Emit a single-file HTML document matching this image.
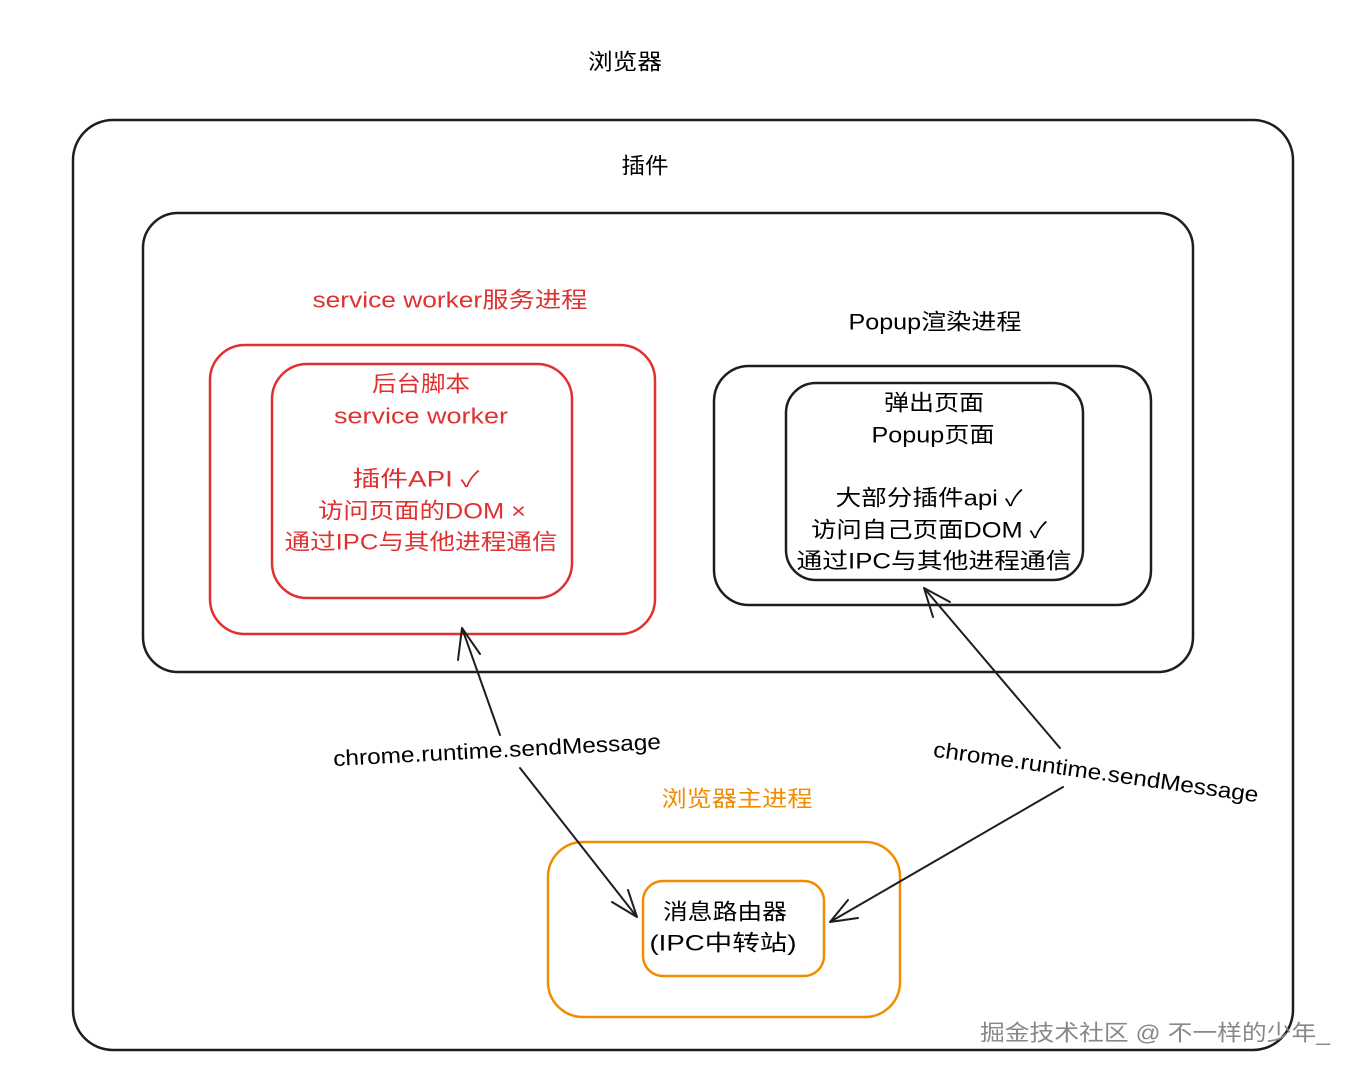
<!DOCTYPE html>
<html><head><meta charset="utf-8"><style>
html,body{margin:0;padding:0;background:#fff;}
svg{display:block;}
text{font-family:"Liberation Sans","Noto Sans CJK SC",sans-serif;font-size:22px;text-anchor:middle;dominant-baseline:central;}
.r{fill:#e03131}.o{fill:#f08c00}
</style></head><body>
<svg width="1358" height="1076" viewBox="0 0 1358 1076" xmlns="http://www.w3.org/2000/svg">
<g fill="none" stroke-width="2.5" stroke-linecap="round">
<rect x="73" y="120" width="1220" height="930" rx="40" stroke="#1e1e1e"/>
<rect x="143" y="213" width="1050" height="459" rx="35" stroke="#1e1e1e"/>
<rect x="210" y="345" width="445" height="289" rx="35" stroke="#e03131"/>
<rect x="272" y="364" width="300" height="234" rx="35" stroke="#e03131"/>
<rect x="714" y="366" width="437" height="239" rx="35" stroke="#1e1e1e"/>
<rect x="786" y="383" width="297" height="197" rx="30" stroke="#1e1e1e"/>
<rect x="548" y="842" width="352" height="175" rx="35" stroke="#f08c00"/>
<rect x="643" y="881" width="181" height="95" rx="20" stroke="#f08c00"/>
<g stroke="#1e1e1e" stroke-width="2">
<path d="M500 735 L462 628 M462 628 L458 660 M462 628 L480 654"/>
<path d="M520 768 L637 917 M637 917 L612 902 M637 917 L628 890"/>
<path d="M1060 748 L924 588 M924 588 L933 617 M924 588 L950 602"/>
<path d="M1063 787 L830 922 M830 922 L848 900 M830 922 L858 918"/>
</g>
</g>
<text x="625" y="62" textLength="74" lengthAdjust="spacingAndGlyphs">浏览器</text>
<text x="645" y="166" textLength="47" lengthAdjust="spacingAndGlyphs">插件</text>
<text class="r" x="450" y="300" textLength="275" lengthAdjust="spacingAndGlyphs">service worker服务进程</text>
<text class="r" x="421" y="384" textLength="98" lengthAdjust="spacingAndGlyphs">后台脚本</text>
<text class="r" x="421" y="416" textLength="174" lengthAdjust="spacingAndGlyphs">service worker</text>
<text class="r" x="416" y="479" textLength="127" lengthAdjust="spacingAndGlyphs">插件API ✓</text>
<text class="r" x="422" y="511" textLength="208" lengthAdjust="spacingAndGlyphs">访问页面的DOM ×</text>
<text class="r" x="421" y="542" textLength="273" lengthAdjust="spacingAndGlyphs">通过IPC与其他进程通信</text>
<text x="935" y="322" textLength="173" lengthAdjust="spacingAndGlyphs">Popup渲染进程</text>
<text x="934" y="403" textLength="100" lengthAdjust="spacingAndGlyphs">弹出页面</text>
<text x="933" y="435" textLength="123" lengthAdjust="spacingAndGlyphs">Popup页面</text>
<text x="929" y="498" textLength="187" lengthAdjust="spacingAndGlyphs">大部分插件api ✓</text>
<text x="929" y="530" textLength="236" lengthAdjust="spacingAndGlyphs">访问自己页面DOM ✓</text>
<text x="934" y="561" textLength="275" lengthAdjust="spacingAndGlyphs">通过IPC与其他进程通信</text>
<text class="o" x="737" y="799" textLength="151" lengthAdjust="spacingAndGlyphs">浏览器主进程</text>
<text x="725" y="912" textLength="124" lengthAdjust="spacingAndGlyphs">消息路由器</text>
<text x="723" y="943" textLength="147" lengthAdjust="spacingAndGlyphs">(IPC中转站)</text>
<text x="497" y="750" transform="rotate(-3 497 750)" textLength="328" lengthAdjust="spacingAndGlyphs">chrome.runtime.sendMessage</text>
<text x="1096" y="772" transform="rotate(8 1096 772)" textLength="328" lengthAdjust="spacingAndGlyphs">chrome.runtime.sendMessage</text>
<text x="1155" y="1033" style="fill:#888;font-size:22px" textLength="350" lengthAdjust="spacingAndGlyphs">掘金技术社区 @ 不一样的少年_</text>
</svg>
</body></html>
